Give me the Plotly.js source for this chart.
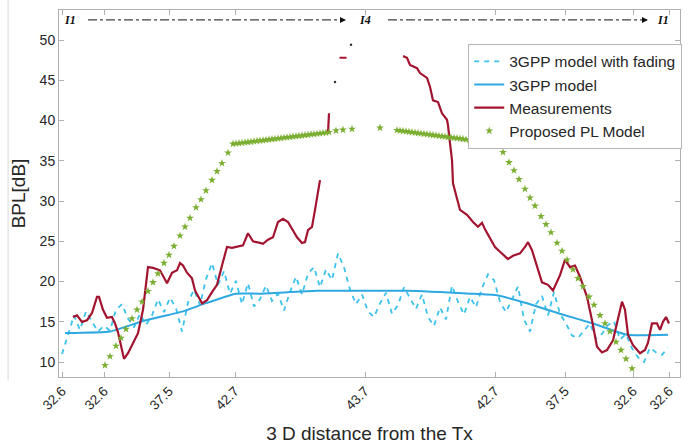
<!DOCTYPE html>
<html>
<head>
<meta charset="utf-8">
<script src="https://cdn.plot.ly/plotly-3.0.1.min.js"></script>
<style>html,body{margin:0;padding:0;background:#fff;}#chart{width:696px;height:445px;}</style>
</head>
<body>
<div id="chart"></div>
<script>
// x axis: sample position along the route (arbitrary units), with distance tick labels
const tickPos = [3, 45, 110, 176, 306, 436, 506, 574, 610];
const tickLabels = ['32.6', '32.6', '37.5', '42.7', '43.7', '42.7', '37.5', '32.6', '32.6'];

// 3GPP model with fading
const fadX = [3,9,15,21,27,33,39,45,51,57,63,69,75,81,87,93,99,105,111,117,123,129,135,141,147,153,159,165,171,177,183,189,195,201,207,213,219,225,231,237,243,249,255,261,267,273,279,285,291,297,303,309,315,321,327,333,339,345,351,357,363,369,375,381,387,393,399,405,411,417,423,429,435,441,447,453,459,465,471,477,483,489,495,501,507,513,519,525,531,537,543,549,555,561,567,573,579,585,591,597,603,609];
const fadY = [11.0,13.5,15.8,14.0,16.3,15.0,13.8,14.5,13.9,16.5,17.2,15.4,14.3,16.0,14.6,15.8,17.8,16.2,18.0,16.7,13.8,17.4,19.0,17.1,20.3,22.3,19.6,21.3,18.5,20.1,17.2,19.8,16.9,17.8,19.5,17.6,18.5,16.4,18.7,20.6,18.4,21.0,21.8,19.3,21.5,20.2,23.5,21.8,19.0,17.2,18.4,16.3,15.6,17.3,18.6,16.0,17.1,19.3,18.0,16.6,18.4,15.6,14.5,16.8,15.3,19.5,17.5,15.9,18.1,16.8,19.2,20.9,20.2,17.5,16.2,17.9,19.4,15.3,13.8,17.2,18.2,15.8,18.7,16.0,14.8,13.3,13.0,13.9,14.8,12.9,13.5,14.6,15.1,12.8,13.5,11.7,10.6,10.0,11.8,11.2,10.9,11.8];

// 3GPP model
const modX = [6, 51, 84, 124, 144, 177, 201, 258, 348, 411, 438, 468, 501, 534, 568, 609];
const modY = [13.6, 13.8, 15.1, 16.3, 17.2, 18.5, 18.5, 18.85, 18.85, 18.5, 18.3, 17.3, 16.0, 14.8, 13.4, 13.4];

// Measurements (null = gap)
const measX = [14,18,23,28,33,38,40,44,48,53,56,59,63,65,69,74,79,84,89,94,101,108,113,118,121,124,128,133,136,143,148,153,158,163,168,173,178,184,189,194,201,204,209,214,219,224,229,233,238,243,246,249,253,256,259,261,
  null, 269, 270, null,
  344,348,351,358,361,368,371,374,379,383,388,389,391,393,394,398,401,408,414,419,423,426,431,436,441,446,449,454,461,466,469,473,476,483,489,494,501,506,511,516,521,528,533,538,543,548,554,559,563,566,569,574,581,586,589,593,598,601,604,607,610];
const measY = [15.6,15.8,15.0,15.2,16.1,18.1,18.1,16.5,15.5,15.6,14.8,13.7,11.5,10.4,11.1,12.4,13.6,16.5,21.8,21.7,21.4,19.8,21.1,21.4,22.3,22.0,21.1,20.4,18.9,17.3,17.7,18.7,19.6,22.0,24.3,24.2,24.3,24.5,26.0,25.0,24.8,24.7,25.2,25.5,27.4,27.8,27.4,26.6,25.5,24.8,24.9,26.4,26.8,28.9,31.0,32.6,
  null, 38.4, 40.9, null,
  48.0,47.8,46.9,46.5,45.9,45.3,44.2,42.5,42.3,40.9,40.1,39.4,37.2,35.1,32.2,30.1,28.9,28.3,27.4,26.8,27.3,26.5,25.4,24.3,23.7,23.2,22.8,23.2,23.5,24.3,24.9,23.9,22.7,19.9,19.6,18.9,20.8,22.7,21.8,22.0,20.6,18.1,15.2,11.9,11.2,11.5,12.7,15.5,17.5,16.5,13.4,12.1,11.1,11.5,12.4,14.8,14.8,14.0,15.0,15.6,14.8];
// isolated measurement samples near the peak
const measDotX = [284];
const measDotY = [47.8];
const strayX = [276, 292];
const strayY = [44.8, 49.4];

// Proposed PL model
const plX = [46,51,57,62,67,73,78,83,89,94,99,105,110,115,121,126,131,137,142,147,153,158,163,169,174,
  177,180,183,186,189,192,195,198,201,204,207,210,213,216,219,222,225,228,231,234,237,240,243,246,249,252,255,258,261,264,267,270,
  277,284,293,321,
  338,341,344,347,350,353,356,359,362,365,368,371,374,377,380,383,386,389,392,395,398,401,404,407,410,413,416,419,422,425,428,431,434,437,440,
  444,450,455,460,466,471,476,482,487,492,498,503,508,514,519,524,530,535,541,546,551,557,562,567,573];
const plY = [9.6,10.7,12.0,13.0,14.1,15.4,16.5,17.5,18.8,19.9,21.0,22.3,23.3,24.4,25.7,26.8,27.9,29.2,30.2,31.3,32.6,33.7,34.7,36.0,37.1,
  37.15,37.19,37.24,37.28,37.33,37.37,37.42,37.46,37.51,37.55,37.60,37.64,37.69,37.73,37.78,37.82,37.87,37.91,37.96,38.01,38.05,38.10,38.14,38.19,38.23,38.28,38.32,38.37,38.41,38.46,38.50,38.55,
  38.75,38.85,38.95,39.1,
  38.80,38.75,38.70,38.65,38.60,38.55,38.50,38.45,38.40,38.35,38.30,38.25,38.20,38.15,38.10,38.05,38.00,37.95,37.90,37.85,37.80,37.75,37.70,37.65,37.60,37.55,37.50,37.45,37.40,37.35,37.30,37.25,37.20,37.15,37.10,
  36.06,34.8,33.8,32.7,31.5,30.4,29.4,28.1,27.1,26.1,24.8,23.8,22.7,21.5,20.4,19.4,18.1,17.1,15.8,14.8,13.8,12.5,11.5,10.4,9.2];

// route labels along the top
const routeLabels = ['I1', 'I4', 'I1'];
const routeLabelX = [11, 306, 604];
const arrowFrom = [29, 329];
const arrowTo = [284, 586];
const routeY = 52.5;

const cyanSolid = '#2EA8E0';
const cyanDash = '#3CC2EC';
const red = '#A2142F';
const green = '#7AAE30';

const traces = [
  {x: fadX, y: fadY, type: 'scatter', mode: 'lines', name: '3GPP model with fading',
   line: {color: cyanDash, width: 1.8, dash: '5px,5px'}},
  {x: modX, y: modY, type: 'scatter', mode: 'lines', name: '3GPP model',
   line: {color: cyanSolid, width: 2, shape: 'spline', smoothing: 0.4}},
  {x: measX, y: measY, type: 'scatter', mode: 'lines', name: 'Measurements',
   line: {color: red, width: 2.2}, connectgaps: false},
  {x: plX, y: plY, type: 'scatter', mode: 'markers', name: 'Proposed PL Model',
   marker: {symbol: 'star', size: 6, color: green}},
  {x: measDotX, y: measDotY, type: 'scatter', mode: 'markers', showlegend: false,
   marker: {symbol: 'line-ew', size: 5, line: {color: red, width: 2}}},
  {x: strayX, y: strayY, type: 'scatter', mode: 'markers', showlegend: false,
   marker: {symbol: 'circle', size: 2.5, color: '#333'}}
];

const shapes = [];
const annotations = [];
for (let i = 0; i < arrowFrom.length; i++) {
  shapes.push({type: 'line', xref: 'x', yref: 'y', x0: arrowFrom[i], x1: arrowTo[i], y0: routeY, y1: routeY,
    line: {color: '#111', width: 1, dash: 'dashdot'}});
  annotations.push({x: arrowTo[i] + 3, y: routeY, xref: 'x', yref: 'y', ax: -5, ay: 0, axref: 'pixel', ayref: 'pixel',
    text: '', showarrow: true, arrowhead: 2, arrowsize: 1, arrowwidth: 1.2, arrowcolor: '#111'});
}
for (let i = 0; i < routeLabels.length; i++) {
  annotations.push({x: routeLabelX[i], y: routeY, xref: 'x', yref: 'y', text: routeLabels[i], showarrow: false,
    font: {family: 'Liberation Serif, serif', size: 12, color: '#111', weight: 'bold', style: 'italic'}});
}
// faint frame edge of neighbouring figure at the left
shapes.push({type: 'line', xref: 'paper', yref: 'paper', x0: -0.082, x1: -0.082, y0: -0.01, y1: 1.03,
  line: {color: '#d8d8d8', width: 1}});

const axisCommon = {
  showgrid: false, zeroline: false, showline: true, mirror: 'ticks', linecolor: '#b0b0b0', linewidth: 1,
  ticks: 'inside', ticklen: 5, tickcolor: '#b0b0b0',
  tickfont: {family: 'Liberation Sans, Arial, sans-serif', size: 13.5, color: '#262626'}
};

const layout = {
  width: 696, height: 445,
  margin: {l: 59, r: 16, t: 10, b: 68},
  paper_bgcolor: '#fff', plot_bgcolor: '#fff',
  showlegend: true,
  xaxis: Object.assign({}, axisCommon, {
    range: [0, 621], tickmode: 'array', tickvals: tickPos, ticktext: tickLabels, tickangle: -45,
    title: {text: '3 D distance from the Tx', standoff: 14,
      font: {family: 'Liberation Sans, Arial, sans-serif', size: 19, color: '#262626'}}
  }),
  yaxis: Object.assign({}, axisCommon, {
    range: [8.15, 53.73], tickmode: 'array', tickvals: [10, 15, 20, 25, 30, 35, 40, 45, 50],
    tickfont: {family: 'Liberation Sans, Arial, sans-serif', size: 14, color: '#262626'},
    title: {text: 'BPL[dB]', standoff: 8,
      font: {family: 'Liberation Sans, Arial, sans-serif', size: 19, color: '#262626'}}
  }),
  legend: {
    x: 0.659, y: 0.908, xanchor: 'left', yanchor: 'top',
    bgcolor: '#fff', bordercolor: '#b8b8b8', borderwidth: 1,
    itemwidth: 30, tracegroupgap: 0,
    font: {family: 'Liberation Sans, Arial, sans-serif', size: 15.5, color: '#262626'}
  },
  shapes: shapes,
  annotations: annotations
};

Plotly.newPlot('chart', traces, layout, {displayModeBar: false, staticPlot: true});
</script>
</body>
</html>
